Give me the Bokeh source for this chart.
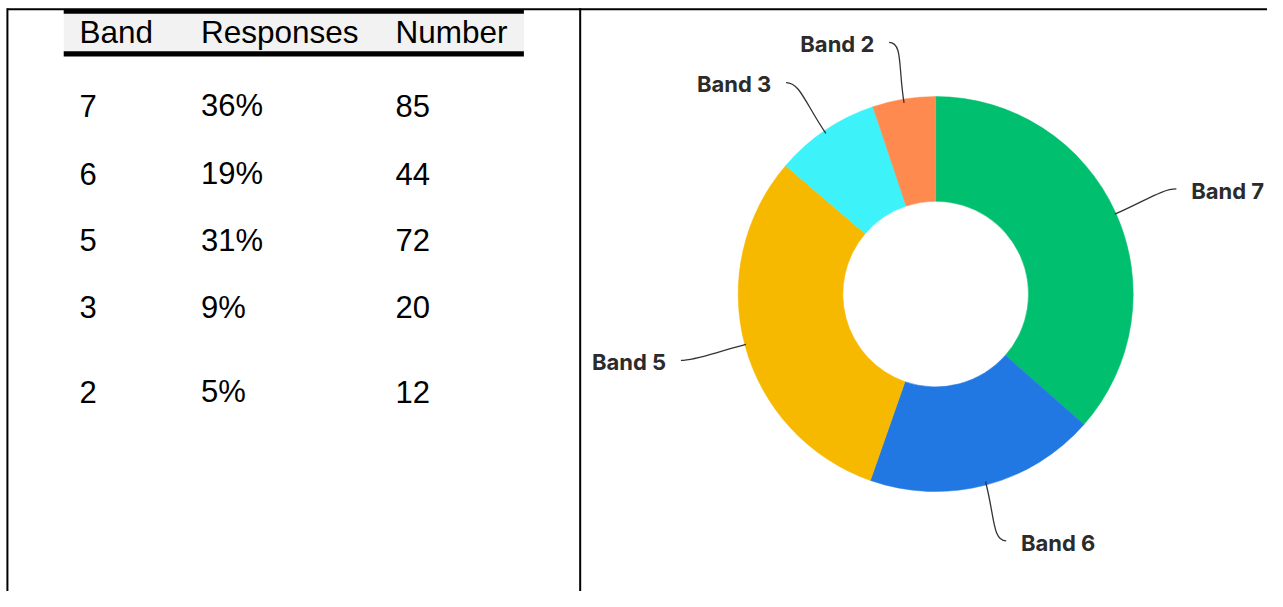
import math
import numpy as np
from bokeh.plotting import figure
from bokeh.models import Range1d, ColumnDataSource
from bokeh.core.properties import value
from bokeh.embed import file_html
from bokeh.resources import INLINE

# ---- data ----
header = ["Band", "Responses", "Number"]
bands = ["7", "6", "5", "3", "2"]
responses = ["36%", "19%", "31%", "9%", "5%"]
numbers = [85, 44, 72, 20, 12]
slice_labels = ["Band 7", "Band 6", "Band 5", "Band 3", "Band 2"]
colors = ["#00BF6F", "#2178E3", "#F7B800", "#3EF2FA", "#FF8A50"]

# ---- layout: data coordinates follow the reference picture's pixels (y negated) ----
W, H = 1267, 591
p = figure(width=W, height=H, x_range=Range1d(0, 1283), y_range=Range1d(-607, 0),
           output_backend="svg", toolbar_location=None, min_border=0,
           x_axis_location=None, y_axis_location=None)
p.grid.visible = False
p.outline_line_color = None
p.background_fill_color = "white"
p.border_fill_color = "white"

# cell borders
p.segment(x0=[7, 7, 587], y0=[-9, -8, -8], x1=[1283, 7, 587], y1=[-9, -607, -607],
          line_color="black", line_width=2)

# header band
p.quad(left=[64], right=[530], top=[-13.5], bottom=[-52], fill_color="#F2F2F2", line_color=None)
p.quad(left=[64, 64], right=[530, 530], top=[-9, -52], bottom=[-13.5, -57.5],
       fill_color="black", line_color=None)

col_x = [80, 203, 400]
tfont = value("Liberation Sans")
p.text(x=col_x, y=[-32] * 3, text=header, text_font=tfont, text_font_size="31.5px",
       text_color="black", text_baseline="middle", text_align="left")

row_y = [-108, -178, -246, -315, -402]
for cx, col in zip(col_x, [bands, responses, [str(n) for n in numbers]]):
    p.text(x=[cx] * len(col), y=row_y, text=col, text_font=tfont, text_font_size="31px",
           text_color="black", text_baseline="middle", text_align="left")

# ---- donut ----
CX, CY = 947, 301.5
R_IN, R_OUT = 94, 200
vals = np.array(numbers, dtype=float)
cum = np.concatenate([[0.0], np.cumsum(vals / vals.sum())]) * 2 * math.pi
s_clock, e_clock = cum[:-1], cum[1:]
src = ColumnDataSource(dict(start=math.pi / 2 - e_clock, end=math.pi / 2 - s_clock,
                            color=colors))
p.annular_wedge(x=CX, y=-CY, inner_radius=R_IN, outer_radius=R_OUT,
                start_angle="start", end_angle="end", direction="anticlock",
                fill_color="color", line_color="color", line_width=0.5, source=src)

mid = (s_clock + e_clock) / 2
R_VIS = 199
side = np.where(np.sin(mid) >= 0, 1.0, -1.0)
sx, sy = CX + R_VIS * np.sin(mid), CY - R_VIS * np.cos(mid)
c0x, c0y = CX + 236 * np.sin(mid), CY - 236 * np.cos(mid)
ex, ey = CX + 262 * np.sin(mid) + side * 5, CY - 262 * np.cos(mid)
c1x, c1y = ex - side * 14, ey
p.bezier(x0=sx, y0=-sy, x1=ex, y1=-ey, cx0=c0x, cy0=-c0y, cx1=c1x, cy1=-c1y,
         line_color="#333333", line_width=1.3)

lfont = value("Inter")
for sgn, align in [(1.0, "left"), (-1.0, "right")]:
    idx = [i for i in range(len(slice_labels)) if side[i] == sgn]
    p.text(x=[ex[i] + sgn * 15 for i in idx], y=[-(ey[i] + 2) for i in idx],
           text=[slice_labels[i] for i in idx], text_font=lfont, text_font_size="22px",
           text_font_style="bold", text_color="#2b2b2b", text_baseline="middle",
           text_align=align)

open("out.html", "w").write(file_html(p, INLINE))
